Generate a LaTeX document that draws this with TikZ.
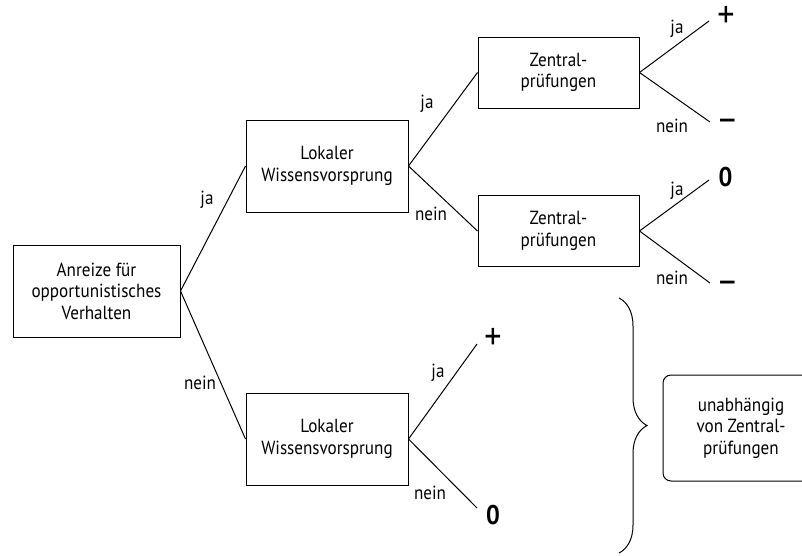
\documentclass[tikz,border=0pt]{standalone}
\usepackage{fontspec}
\setmainfont{PT Sans}[FakeStretch=0.9]
\usetikzlibrary{decorations.pathreplacing}

\tikzset{
  box/.style={draw, line width=1pt, minimum width=162pt, minimum height=92pt,
    inner sep=0pt, align=center, font=\fontsize{19}{21.5}\selectfont},
  zbox/.style={box, minimum width=161pt, minimum height=71pt},
  lab/.style={font=\fontsize{19}{21.5}\selectfont, inner sep=0pt},
  leaf/.style={font=\fontsize{27}{27}\selectfont\bfseries, inner sep=0pt},
  sign/.style={leaf, font=\fontsize{38}{38}\selectfont}
}

\begin{document}
\begin{tikzpicture}[x=1pt,y=-1pt,line width=1pt]

\clip (0,0) rectangle (802,555);

% Entscheidungsknoten
\node[box, minimum width=167pt] (anreize) at (96.5,291) {Anreize für\\opportunistisches\\Verhalten};
\node[box] (lokal1) at (327,166) {Lokaler\\Wissensvorsprung};
\node[box] (lokal2) at (327,439) {Lokaler\\Wissensvorsprung};
\node[zbox] (zentral1) at (558.5,72.5) {Zentral-\\prüfungen};
\node[zbox] (zentral2) at (558.5,231) {Zentral-\\prüfungen};

% Endpunkte der Aeste
\coordinate (z1ja) at (709,21);
\coordinate (z1nein) at (710,122);
\coordinate (z2ja) at (709,180);
\coordinate (z2nein) at (710,283);
\coordinate (l2ja) at (477,344);
\coordinate (l2nein) at (477,508);

\draw (anreize.east) -- (lokal1.west);
\draw (anreize.east) -- (lokal2.west);
\draw (lokal1.east) -- (zentral1.west);
\draw (lokal1.east) -- (zentral2.west);
\draw (zentral1.east) -- (z1ja);
\draw (zentral1.east) -- (z1nein);
\draw (zentral2.east) -- (z2ja);
\draw (zentral2.east) -- (z2nein);
\draw (lokal2.east) -- (l2ja);
\draw (lokal2.east) -- (l2nein);

% Beschriftungen
\node[lab] (ja1) at (207,200) {ja};
\node[lab] (nein1) at (200,383) {nein};
\node[lab] (ja2) at (427,104) {ja};
\node[lab] (nein2) at (431,214) {nein};
\node[lab] (ja3) at (677,29) {ja};
\node[lab] (nein3) at (672,126) {nein};
\node[lab] (ja4) at (677,191) {ja};
\node[lab] (nein4) at (672,278) {nein};
\node[lab] (ja5) at (438,373) {ja};
\node[lab] (nein5) at (430,493) {nein};

% Ergebnisse
\node[sign] (plus1) at (726,17) {+};
\node[sign] (minus1) at (727.5,125) {–};
\node[leaf] (null1) at (725.5,177) {0};
\node[sign] (minus2) at (727.5,287) {–};
\node[sign] (plus2) at (493,339) {+};
\node[leaf] (null2) at (493,515) {0};

% Klammer
\draw[decorate, decoration={brace, amplitude=28pt}] (619,298) -- (619,553);
\node[box, rounded corners=8pt, minimum width=156pt, minimum height=106pt] (unabh) at (741,428) {unabhängig\\von Zentral-\\prüfungen};

\end{tikzpicture}
\end{document}
